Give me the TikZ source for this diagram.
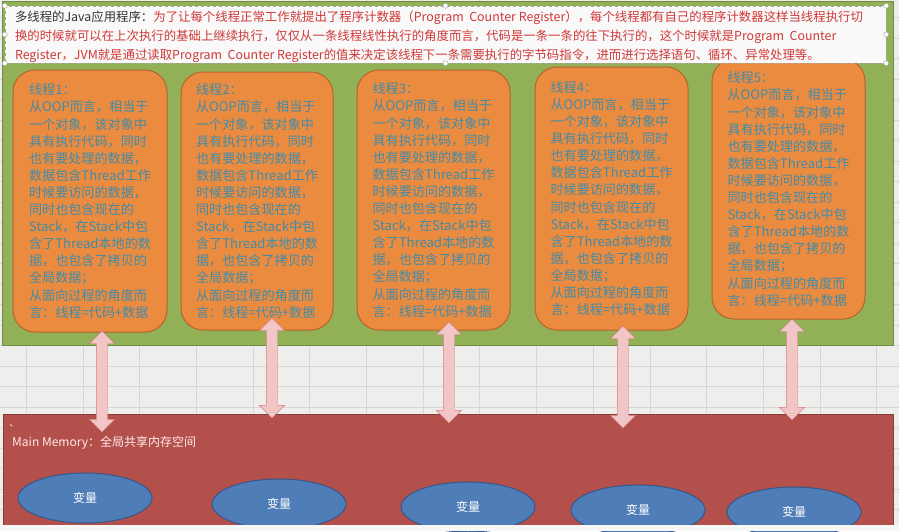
\documentclass[tikz,border=0pt]{standalone}
\usepackage{fontspec}
\setmainfont{Noto Sans CJK SC}
\usepackage{xcolor}
\usepackage{tikz}
\usetikzlibrary{shapes.geometric,shapes.arrows,positioning}

\definecolor{sheetbg}{RGB}{238,238,236}
\definecolor{gridline}{RGB}{214,214,212}
\definecolor{greenfill}{RGB}{146,176,86}
\definecolor{greenline}{RGB}{112,140,62}
\definecolor{orangefill}{RGB}{234,139,64}
\definecolor{orangeline}{RGB}{186,98,44}
\definecolor{threadink}{RGB}{66,140,168}
\definecolor{redfill}{RGB}{180,80,76}
\definecolor{redline}{RGB}{138,58,55}
\definecolor{varfill}{RGB}{79,125,184}
\definecolor{varline}{RGB}{52,88,138}
\definecolor{pinkfill}{RGB}{242,198,198}
\definecolor{pinkline}{RGB}{210,128,128}
\definecolor{introred}{RGB}{208,56,56}

\newcommand{\threadtext}[1]{线程#1：\\从OOP而言，相当于\\一个对象，该对象中\\具有执行代码，同时\\也有要处理的数据，\\数据包含Thread工作\\时候要访问的数据，\\同时也包含现在的\\Stack，在Stack中包\\含了Thread本地的数\\据，也包含了拷贝的\\全局数据；\\从面向过程的角度而\\言：线程=代码+数据}

\begin{document}
\begin{tikzpicture}[
  x=1pt, y=-1pt,
  thread/.style={draw=orangeline, fill=orangefill, line width=1pt, rounded corners=22pt,
    align=left, inner sep=0pt, text=threadink, font=\fontsize{13.1}{17.1}\selectfont},
  updown/.style={double arrow, shape border rotate=90, draw=pinkline, fill=pinkfill,
    minimum width=25pt, double arrow head extend=7pt, inner sep=5.5pt},
  varblob/.style={ellipse, draw=varline, fill=varfill, line width=1pt, minimum width=134pt,
    minimum height=50pt, text=white, font=\fontsize{12}{14}\selectfont},
  handle/.style={circle, draw=gray!70, fill=white, inner sep=0pt, minimum size=5pt}
]
  \useasboundingbox (0,0) rectangle (899,531);
  % spreadsheet behind the shapes
  \fill[sheetbg] (0,0) rectangle (899,531);
  \foreach \gx in {0,...,15}
    \draw[gridline] (26+56.7*\gx,0) -- (26+56.7*\gx,531);
  \foreach \gy in {0,...,25}
    \draw[gridline] (0,17.5+20.5*\gy) -- (899,17.5+20.5*\gy);

  % working memory of the threads
  \node[draw=greenline, fill=greenfill, line width=1pt, minimum width=891pt, minimum height=344pt,
    inner sep=0pt] (threads) at (447.5,173) {};
  \node[thread, minimum width=154pt, minimum height=262pt] (t1) at (90,201) {\threadtext{1}};
  \node[thread, minimum width=152pt, minimum height=258pt] (t2) at (257,201) {\threadtext{2}};
  \node[thread, minimum width=153pt, minimum height=260pt] (t3) at (433.5,200) {\threadtext{3}};
  \node[thread, minimum width=153pt, minimum height=263pt] (t4) at (611.5,198.5) {\threadtext{4}};
  \node[thread, minimum width=153pt, minimum height=260pt] (t5) at (788.5,189) {\threadtext{5}};

  % text box on top
  \node[draw=gray!70, dashed, fill=white!95!gray, minimum width=881pt, minimum height=57pt,
    inner sep=0pt] (intro) at (445.5,34.5) {};
  \node[anchor=west, align=left, inner sep=0pt, text=introred,
    font=\fontsize{12.4}{19}\selectfont] (introtext) at ([xshift=10pt,yshift=-2pt]intro.west)
    {\textcolor{black!80}{多线程的Java应用程序：}为了让每个线程正常工作就提出了程序计数器（Program\ \ Counter Register），每个线程都有自己的程序计数器这样当线程执行切\\
     换的时候就可以在上次执行的基础上继续执行，仅仅从一条线程线性执行的角度而言，代码是一条一条的往下执行的，这个时候就是Program\ \ Counter\\
     Register，JVM就是通过读取Program\ \ Counter Register的值来决定该线程下一条需要执行的字节码指令，进而进行选择语句、循环、异常处理等。};
  \foreach \hp in {north west,west,south west,north east,east,south east,north,south}
    \node[handle] at (intro.\hp) {};

  % main memory
  \node[draw=redline, fill=redfill, line width=1pt, minimum width=890pt, minimum height=112pt,
    inner sep=0pt] (memory) at (448,470) {};
  \node[text=white, inner sep=0pt, font=\fontsize{9}{10}\selectfont] (tick) at (14,426) {、};
  \node[anchor=west, text=white!92!red, inner sep=0pt, font=\fontsize{12}{14}\selectfont]
    (memtitle) at (12,443) {Main Memory：全局共享内存空间};
  \node[varblob] (v1) at (85,498) {变量};
  \node[varblob] (v2) at (279,504) {变量};
  \node[varblob] (v3) at (468,507) {变量};
  \node[varblob] (v4) at (638,510) {变量};
  \node[varblob] (v5) at (794,512) {变量};

  % copies between working and main memory
  \node[updown, minimum height=101pt] (a1) at (102,381.5) {};
  \node[updown, minimum height=100pt] (a2) at (272,368) {};
  \node[updown, minimum height=101pt] (a3) at (449,372.5) {};
  \node[updown, minimum height=102pt] (a4) at (623,377) {};
  \node[updown, minimum height=101pt] (a5) at (792,369.5) {};

  % screen edge
  \fill[white!94!gray] (0,525) rectangle (899,531);
\end{tikzpicture}
\end{document}
